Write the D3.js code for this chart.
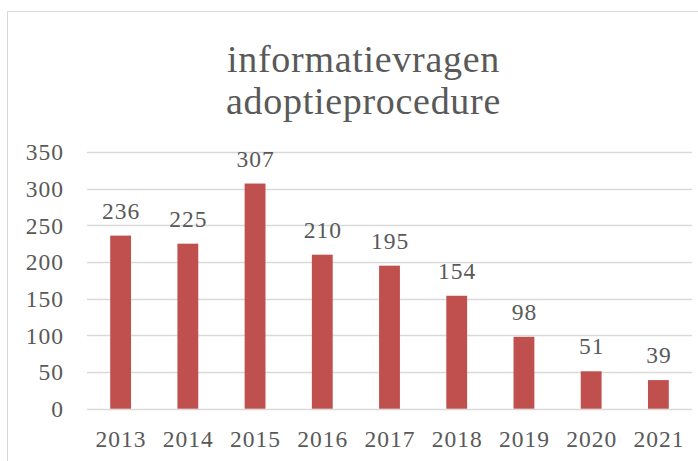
<!DOCTYPE html>
<html>
<head>
<meta charset="utf-8">
<script src="https://cdn.jsdelivr.net/npm/d3@7"></script>
<style>
  body { margin: 0; background: #fff; }
  svg text { font-family: 'Liberation Serif', serif; fill: #595959; }
</style>
</head>
<body>
<div id="chart"></div>
<script>
var years = ['2013', '2014', '2015', '2016', '2017', '2018', '2019', '2020', '2021'];
var requests = [236, 225, 307, 210, 195, 154, 98, 51, 39];
var y_ticks = [0, 50, 100, 150, 200, 250, 300, 350];
var title_lines = ['informatievragen', 'adoptieprocedure'];

var width = 698, height = 461;
var plot = {left: 87, right: 692, top: 152, bottom: 408.7};

var svg = d3.select('#chart')
  .append('svg')
  .attr('width', width)
  .attr('height', height);

// chart area border (continues past the right/bottom edge)
svg.append('rect')
  .attr('x', 7.5)
  .attr('y', 11.5)
  .attr('width', 800)
  .attr('height', 600)
  .attr('fill', 'none')
  .attr('stroke', '#d9d9d9')
  .attr('stroke-width', 1);

// title
svg.append('g')
  .selectAll('text')
  .data(title_lines)
  .enter()
  .append('text')
  .attr('x', 363.5)
  .attr('y', function(d, i) { return 72 + i * 42; })
  .attr('text-anchor', 'middle')
  .style('font-size', '38px')
  .style('letter-spacing', '0.7px')
  .text(function(d) { return d; });

var x = d3.scaleBand()
  .domain(years)
  .range([plot.left, plot.right])
  .padding(0);

var y = d3.scaleLinear()
  .domain([0, 350])
  .range([plot.bottom, plot.top]);

var bar_w = x.bandwidth() * 0.31;

// gridlines
svg.append('g')
  .selectAll('line')
  .data(y_ticks)
  .enter()
  .append('line')
  .attr('x1', plot.left)
  .attr('x2', plot.right)
  .attr('y1', function(d) { return Math.round(y(d)) + 0.5; })
  .attr('y2', function(d) { return Math.round(y(d)) + 0.5; })
  .attr('stroke', '#d9d9d9')
  .attr('stroke-width', 1.3);

// y axis labels
var y_axis = svg.append('g')
  .attr('transform', 'translate(' + 64 + ',0)')
  .call(d3.axisLeft(y).tickValues(y_ticks).tickSize(0).tickPadding(0));
y_axis.select('.domain').remove();
y_axis.selectAll('text')
  .style('font-size', '23.5px')
  .style('letter-spacing', '1px')
  .attr('dy', '0.33em')
  .attr('fill', '#595959');

// bars
svg.append('g')
  .selectAll('rect')
  .data(requests)
  .enter()
  .append('rect')
  .attr('x', function(d, i) { return x(years[i]) + x.bandwidth() / 2 - bar_w / 2; })
  .attr('y', function(d) { return y(d); })
  .attr('width', bar_w)
  .attr('height', function(d) { return y(0) - y(d); })
  .attr('fill', '#c0504d');

// data labels
svg.append('g')
  .selectAll('text')
  .data(requests)
  .enter()
  .append('text')
  .attr('x', function(d, i) { return x(years[i]) + x.bandwidth() / 2 + 0.5; })
  .attr('y', function(d) { return y(d) - 17; })
  .attr('text-anchor', 'middle')
  .style('font-size', '23.5px')
  .style('letter-spacing', '1px')
  .text(function(d) { return d; });

// x axis labels
var x_axis = svg.append('g')
  .attr('transform', 'translate(0,' + plot.bottom + ')')
  .call(d3.axisBottom(x).tickSize(0).tickPadding(0));
x_axis.select('.domain').remove();
x_axis.selectAll('text')
  .attr('y', 38.5)
  .attr('dy', 0)
  .attr('dx', '0.5')
  .style('font-size', '23.5px')
  .style('letter-spacing', '1px')
  .attr('fill', '#595959');
</script>
</body>
</html>
